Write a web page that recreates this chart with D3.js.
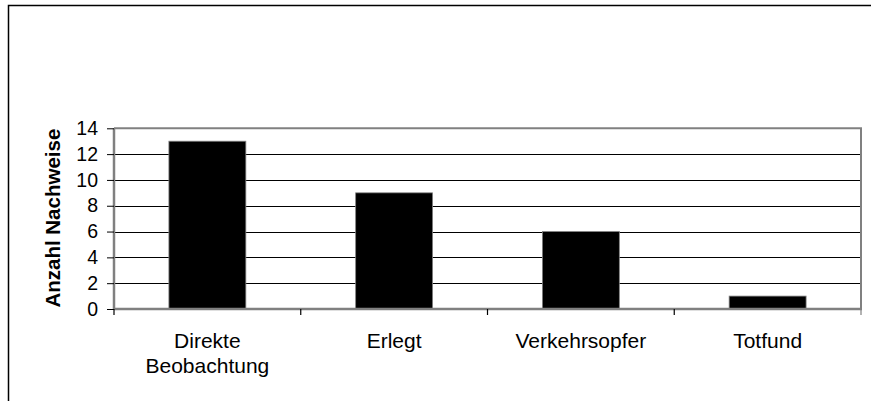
<!DOCTYPE html>
<html>
<head>
<meta charset="utf-8">
<script src="https://cdn.jsdelivr.net/npm/d3@7"></script>
<style>
  html, body { margin: 0; padding: 0; background: #fff; }
  svg { display: block; font-family: Arial, "Liberation Sans", sans-serif; }
</style>
</head>
<body>
<svg id="chart" width="871" height="401"></svg>
<script>
const categories = [["Direkte", "Beobachtung"], ["Erlegt"], ["Verkehrsopfer"], ["Totfund"]];
const values = [13, 9, 6, 1];
const yTicks = [0, 2, 4, 6, 8, 10, 12, 14];
const yTitle = "Anzahl Nachweise";

const svg = d3.select("#chart");
const plot = { left: 114, right: 861, top: 128.3, bottom: 309 };

// outer frame (extends past image at right and bottom)
svg.append("rect")
  .attr("x", 8.5).attr("y", 5.5).attr("width", 900).attr("height", 420)
  .attr("fill", "#fff").attr("stroke", "#000").attr("stroke-width", 1.5);

const keys = categories.map((c, i) => i);
const x = d3.scaleBand().domain(keys).range([plot.left, plot.right])
  .paddingInner(0.588).paddingOuter(0.294);
const y = d3.scaleLinear().domain([0, 14]).range([plot.bottom, plot.top]);

// gridlines
svg.append("g").selectAll("line").data(yTicks.filter(t => t > 0 && t < 14)).join("line")
  .attr("x1", plot.left).attr("x2", plot.right)
  .attr("y1", d => Math.round(y(d)) + 0.5).attr("y2", d => Math.round(y(d)) + 0.5)
  .attr("stroke", "#000").attr("stroke-width", 1);

// plot area frame (gray)
svg.append("line").attr("x1", plot.left).attr("x2", plot.right + 1)
  .attr("y1", plot.top).attr("y2", plot.top)
  .attr("stroke", "#808080").attr("stroke-width", 2);
svg.append("line").attr("x1", plot.right).attr("x2", plot.right)
  .attr("y1", plot.top).attr("y2", plot.bottom)
  .attr("stroke", "#808080").attr("stroke-width", 2);

// bars
svg.append("g").selectAll("rect").data(values).join("rect")
  .attr("x", (d, i) => x(i))
  .attr("width", x.bandwidth())
  .attr("y", d => y(d))
  .attr("height", d => y(0) - y(d))
  .attr("fill", "#000").attr("stroke", "#808080").attr("stroke-width", 0.8);

// y axis
const yAxis = d3.axisLeft(y).tickValues(yTicks).tickSize(7).tickPadding(9);
const gy = svg.append("g").attr("transform", `translate(${plot.left},0)`).call(yAxis);
gy.select(".domain").attr("stroke", "#808080").attr("stroke-width", 2.5)
  .attr("d", `M0,${plot.top}V${plot.bottom}`);
gy.selectAll(".tick line").attr("stroke", "#000");
gy.selectAll(".tick text").attr("font-size", 19.5).attr("fill", "#000")
  .attr("font-family", "Arial, 'Liberation Sans', sans-serif");

// x axis line & boundary ticks
const boundaries = keys.map(i => plot.left + x.step() * i).concat([plot.right]);
svg.append("line").attr("x1", plot.left).attr("x2", plot.right + 1)
  .attr("y1", plot.bottom).attr("y2", plot.bottom)
  .attr("stroke", "#808080").attr("stroke-width", 2.5);
svg.append("g").selectAll("line").data(boundaries).join("line")
  .attr("x1", d => d).attr("x2", d => d)
  .attr("y1", plot.bottom).attr("y2", plot.bottom + 6)
  .attr("stroke", d => d === plot.right ? "#808080" : "#000").attr("stroke-width", 1.2);

// category labels
const lab = svg.append("g").selectAll("text").data(categories).join("text")
  .attr("text-anchor", "middle").attr("font-size", 21).attr("fill", "#000")
  .attr("transform", (d, i) => `translate(${x(i) + x.bandwidth() / 2},347.5)`);
lab.selectAll("tspan").data(d => d).join("tspan")
  .attr("x", 0).attr("dy", (d, j) => j === 0 ? 0 : 25.5).text(d => d);

// y title
svg.append("text")
  .attr("transform", `translate(59.5,${(plot.top + plot.bottom) / 2 - 0.5}) rotate(-90)`)
  .attr("text-anchor", "middle").attr("font-size", 20.5).attr("font-weight", "bold")
  .attr("fill", "#000").text(yTitle);
</script>
</body>
</html>
